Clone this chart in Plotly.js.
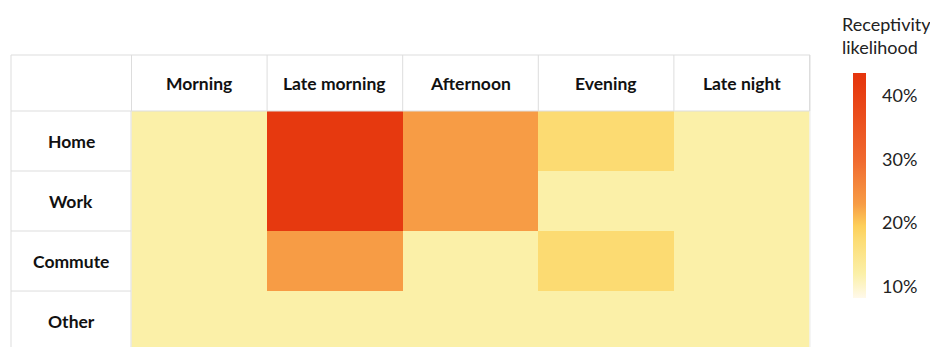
<!DOCTYPE html>
<html>
<head>
<meta charset="utf-8">
<script src="https://cdn.plot.ly/plotly-3.0.1.min.js"></script>
<style>html,body{margin:0;padding:0;background:#fff;}#chart{width:930px;height:347px;}</style>
</head>
<body>
<div id="chart"></div>
<script>
// Data
const places = ['Home', 'Work', 'Commute', 'Other'];
const times = ['Morning', 'Late morning', 'Afternoon', 'Evening', 'Late night'];
const homeValues = [12, 42, 23, 17.5, 12];
const workValues = [12, 42, 23, 12, 12];
const commuteValues = [12, 23, 12, 17.5, 12];
const otherValues = [12, 12, 12, 12, 12];
const colorbarTicks = [10, 20, 30, 40];

const zMatrix = [homeValues, workValues, commuteValues, otherValues];

const FONT = 'Lato, "Open Sans", sans-serif';
const GRID = '#dddddd';

const trace = {
  type: 'heatmap',
  x: times,
  y: places,
  z: zMatrix,
  zmin: 8.2,
  zmax: 43.6,
  hoverinfo: 'skip',
  colorscale: [
    [0.0, '#fff9ea'],
    [0.107, '#fbf0a8'],
    [0.263, '#fcdb72'],
    [0.32, '#fdcf5a'],
    [0.418, '#f79c45'],
    [0.616, '#f0692f'],
    [0.955, '#e6390f'],
    [1.0, '#e5350e']
  ],
  colorbar: {
    x: (853 - 131) / 679, xanchor: 'left', xpad: 0,
    y: 1 - (185.5 - 111) / 236, yanchor: 'middle', ypad: 0,
    len: 225, lenmode: 'pixels',
    thickness: 13,
    outlinewidth: 0,
    tickvals: colorbarTicks,
    ticktext: colorbarTicks.map(v => v + '%'),
    ticks: 'outside', ticklen: 13, tickcolor: 'rgba(0,0,0,0)',
    tickfont: {family: FONT, size: 18, color: '#222'}
  }
};

const L = -120 / 679;       // left edge of table in paper coords
const HT = 1 + 56 / 236;    // header top in paper coords

const shapes = [];
shapes.push({type: 'rect', xref: 'paper', yref: 'paper', x0: L, x1: 1, y0: 1, y1: HT,
  line: {color: GRID, width: 1}, fillcolor: 'rgba(0,0,0,0)'});
for (let i = 0; i <= times.length; i++) {
  shapes.push({type: 'line', xref: 'x', yref: 'paper', x0: i - 0.5, x1: i - 0.5, y0: 1, y1: HT,
    line: {color: GRID, width: 1}});
}
shapes.push({type: 'line', xref: 'paper', yref: 'paper', x0: L, x1: L, y0: -0.2, y1: 1, line: {color: GRID, width: 1}});
shapes.push({type: 'line', xref: 'paper', yref: 'paper', x0: 0, x1: 0, y0: -0.2, y1: 1, line: {color: GRID, width: 1}});
shapes.push({type: 'line', xref: 'paper', yref: 'paper', x0: 1, x1: 1, y0: -0.2, y1: 1, line: {color: '#ececec', width: 1}});
for (let i = 1; i < places.length; i++) {
  shapes.push({type: 'line', xref: 'paper', yref: 'y', x0: L, x1: 0, y0: i - 0.5, y1: i - 0.5,
    line: {color: GRID, width: 1}});
}

const annotations = [];
times.forEach(t => annotations.push({
  xref: 'x', yref: 'paper', x: t, y: 1 + 28 / 236, text: '<b>' + t + '</b>',
  showarrow: false, xanchor: 'center', yanchor: 'middle',
  font: {family: FONT, size: 17.5, color: '#111'}
}));
places.forEach(p => annotations.push({
  xref: 'paper', yref: 'y', x: L / 2, y: p, text: '<b>' + p + '</b>',
  showarrow: false, xanchor: 'center', yanchor: 'middle',
  font: {family: FONT, size: 17.5, color: '#111'}
}));
annotations.push({
  xref: 'paper', yref: 'paper', x: (840 - 131) / 679, y: 1 + (111 - 11) / 236,
  xanchor: 'left', yanchor: 'top', align: 'left', showarrow: false,
  text: 'Receptivity<br>likelihood',
  font: {family: FONT, size: 18, color: '#222'}
});

const layout = {
  width: 930, height: 347,
  margin: {l: 131, r: 120, t: 111, b: 0, pad: 0},
  paper_bgcolor: '#ffffff', plot_bgcolor: '#ffffff',
  font: {family: FONT},
  xaxis: {type: 'category', showticklabels: false, showgrid: false, zeroline: false, showline: false, ticks: '', fixedrange: true},
  yaxis: {type: 'category', range: [3.433, -0.5], showticklabels: false, showgrid: false, zeroline: false, showline: false, ticks: '', fixedrange: true},
  shapes: shapes,
  annotations: annotations
};

Plotly.newPlot('chart', [trace], layout, {displayModeBar: false, staticPlot: true});
</script>
</body>
</html>
